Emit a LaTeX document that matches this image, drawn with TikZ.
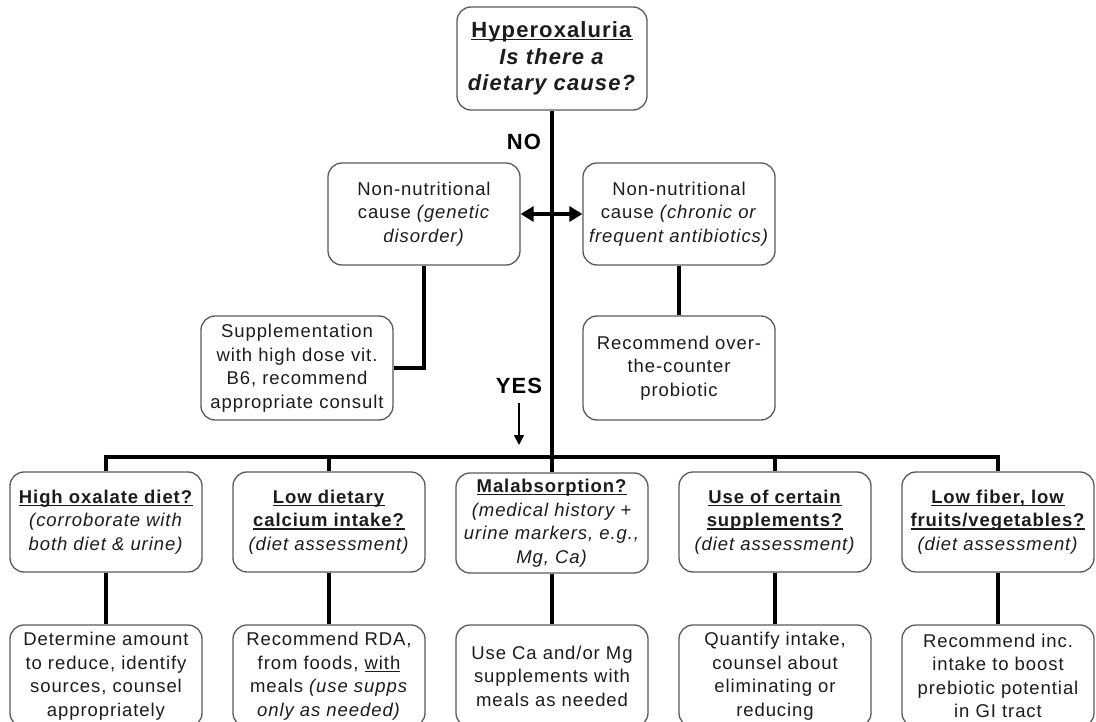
\documentclass[tikz,border=0pt]{standalone}
\usepackage{fontspec}
\setmainfont{Liberation Sans}[LetterSpace=5]
\newsavebox{\ulbox}
\newcommand{\myul}[1]{\sbox{\ulbox}{#1}\leavevmode\rlap{\rule[-2.8pt]{\wd\ulbox}{1.3pt}}\usebox{\ulbox}}
\usetikzlibrary{arrows.meta}
\definecolor{boxgray}{HTML}{5A5A5A}
\definecolor{txt}{HTML}{1C1C1C}
\tikzset{
  box/.style={draw=boxgray, line width=1.3pt, rounded corners=14pt, align=center,
    minimum width=192pt, inner sep=0pt, text=txt,
    font=\fontsize{18.5}{23.5}\selectfont},
  conn/.style={line width=3.2pt, draw=black},
  lbl/.style={font=\fontsize{22}{24}\selectfont\bfseries, text=black, inner sep=0pt, anchor=base},
}
\begin{document}
\begin{tikzpicture}[x=1pt,y=-1pt]
\useasboundingbox (0,0) rectangle (1096,722);
\clip (0,0) rectangle (1096,722);
\fill[white] (0,0) rectangle (1096,722);

% top
\node[box, minimum width=190pt, minimum height=103pt, font=\fontsize{22}{26.5}\selectfont] (top) at (552,58.5)
  {\myul{\textbf{Hyperoxaluria}}\\ \textbf{\textit{Is there a}}\\ \textbf{\textit{dietary cause?}}};
\node[lbl] (no) at (524,150) {NO};

% middle
\node[box, minimum height=102pt] (gen) at (424,214)
  {Non-nutritional\\ cause \textit{(genetic}\\ \textit{disorder)}};
\node[box, minimum height=102pt] (anti) at (679,214)
  {Non-nutritional\\ cause \textit{(chronic or}\\ \textit{frequent antibiotics)}};
\node[box, minimum height=104pt] (supp) at (297,368)
  {Supplementation\\ with high dose vit.\\ B6, recommend\\ appropriate consult};
\node[box, minimum height=104pt] (prob) at (679,368)
  {Recommend over-\\ the-counter\\ probiotic};
\node[lbl] (yes) at (519,393) {YES};
\coordinate (yesend) at (519,445);
\coordinate (bar) at (552,457);

% row 1
\node[box, minimum height=100pt] (b1) at (106,522)
  {\myul{\textbf{High oxalate diet?}}\\ \textit{(corroborate with}\\ \textit{both diet \& urine)}};
\node[box, minimum height=100pt] (b2) at (329,522)
  {\myul{\textbf{Low dietary}}\\ \myul{\textbf{calcium intake?}}\\ \textit{(diet assessment)}};
\node[box, minimum height=100pt] (b3) at (552,523)
  {\myul{\textbf{Malabsorption?}}\\ \textit{(medical history +}\\ \textit{urine markers, e.g.,}\\ \textit{Mg, Ca)}};
\node[box, minimum height=100pt] (b4) at (775,522)
  {\myul{\textbf{Use of certain}}\\ \myul{\textbf{supplements?}}\\ \textit{(diet assessment)}};
\node[box, minimum height=100pt] (b5) at (998,522)
  {\myul{\textbf{Low fiber, low}}\\ \myul{\textbf{fruits/vegetables?}}\\ \textit{(diet assessment)}};

% row 2
\node[box, minimum height=102pt] (c1) at (106,676)
  {Determine amount\\ to reduce, identify\\ sources, counsel\\ appropriately};
\node[box, minimum height=102pt] (c2) at (329,676)
  {Recommend RDA,\\ from foods, \myul{with}\\ meals \textit{(use supps}\\ \textit{only as needed)}};
\node[box, minimum height=102pt] (c3) at (552,676)
  {Use Ca and/or Mg\\ supplements with\\ meals as needed};
\node[box, minimum height=102pt] (c4) at (775,676)
  {Quantify intake,\\ counsel about\\ eliminating or\\ reducing};
\node[box, minimum height=102pt] (c5) at (998,676)
  {Recommend inc.\\ intake to boost\\ prebiotic potential\\ in GI tract};

% connectors
\draw[conn] (top.south) -- (top.south |- bar);
\draw[conn, {Triangle[length=13pt,width=15pt]}-{Triangle[length=13pt,width=15pt]}] (gen.east) -- (anti.west);
\draw[conn] (gen.south) |- (supp.east);
\draw[conn] (anti.south) -- (prob.north);
\draw[line width=1.5pt, -{Triangle[length=10pt,width=10pt]}] ([yshift=-10pt]yes.south) -- (yesend);
\draw[conn] (b1.north) |- (b5.north |- bar) -- (b5.north);
\foreach \b in {b2,b3,b4} \draw[conn] (\b.north) -- (\b.north |- bar);
\foreach \i in {1,...,5} \draw[conn] (b\i.south) -- (c\i.north);
\end{tikzpicture}
\end{document}
